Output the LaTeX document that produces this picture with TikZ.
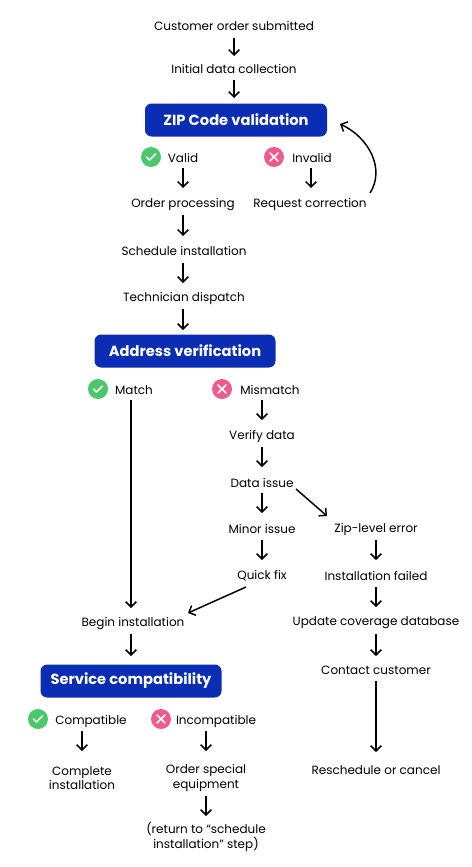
\documentclass[tikz,border=0pt]{standalone}
\usepackage{fontspec}
\setmainfont{Poppins}
\usetikzlibrary{arrows.meta,calc}
\definecolor{hdr}{HTML}{0B2DB3}
\definecolor{okc}{HTML}{4CC86A}
\definecolor{noc}{HTML}{EF5B8C}
\begin{document}
\begin{tikzpicture}[x=0.75pt,y=-0.75pt,
  t/.style={font=\fontsize{9}{11}\selectfont,align=center,inner sep=1pt,yshift=-0.8pt},
  hb/.style={fill=hdr,rounded corners=5pt,text=white,font=\fontsize{11}{13}\selectfont\bfseries,minimum height=24.75pt},
  ar/.style={-{Straight Barb[length=4pt,width=8pt]},line width=1.1pt},
  ok/.style={circle,fill=okc,minimum size=15pt,inner sep=0pt},
  no/.style={circle,fill=noc,minimum size=15pt,inner sep=0pt}]
\useasboundingbox (0,0) rectangle (471,867);
\newcommand{\chk}[1]{\draw[white,line width=1.2pt,line cap=round,line join=round] ($(#1)+(-4.5,0)$) -- ($(#1)+(-1.5,3)$) -- ($(#1)+(4.5,-3)$);}
\newcommand{\crs}[1]{\draw[white,line width=1.2pt,line cap=round] ($(#1)+(-4,-4)$) -- ($(#1)+(4,4)$) ($(#1)+(-4,4)$) -- ($(#1)+(4,-4)$);}
\node[t] (a) at (234,25) {Customer order submitted};
\node[t] (b) at (234,68) {Initial data collection};
\node[hb,minimum width=136.5pt] (zip) at (236,120) {ZIP Code validation};
\node[ok] (i1) at (151,157) {}; \chk{i1}
\node[t] (v) at (183,157) {Valid};
\node[no] (i2) at (274,157) {}; \crs{i2}
\node[t] (iv) at (312,157) {Invalid};
\node[t] (op) at (183,203) {Order processing};
\node[t] (rc) at (310,203) {Request correction};
\node[t] (si) at (184,250) {Schedule installation};
\node[t] (td) at (184,297) {Technician dispatch};
\node[hb,minimum width=135.75pt] (av) at (185,351) {Address verification};
\node[ok] (i3) at (98,389) {}; \chk{i3}
\node[t] (m) at (134,389) {Match};
\node[no] (i4) at (222,389) {}; \crs{i4}
\node[t] (mm) at (270,389) {Mismatch};
\node[t] (vd) at (262,435) {Verify data};
\node[t] (di) at (262,482) {Data issue};
\node[t] (mi) at (262,528) {Minor issue};
\node[t] (ze) at (376,528) {Zip-level error};
\node[t] (qf) at (262,575) {Quick fix};
\node[t] (if) at (376,575) {Installation failed};
\node[t] (bi) at (133,622) {Begin installation};
\node[t] (ud) at (376,622) {Update coverage database};
\node[t] (cc) at (376,669) {Contact customer};
\node[hb,minimum width=135.75pt] (sc) at (131,681) {Service compatibility};
\node[ok] (i5) at (38,719) {}; \chk{i5}
\node[t] (cp) at (91,720) {Compatible};
\node[no] (i6) at (161,719) {}; \crs{i6}
\node[t] (ic) at (216,720) {Incompatible};
\node[t] (ci) at (82,777) {Complete\\installation};
\node[t] (os) at (206,777) {Order special\\equipment};
\node[t] (rt) at (206,836) {(return to “schedule\\installation” step)};
\node[t] (rs) at (376,769) {Reschedule or cancel};
\draw[ar] (234,38) -- (234,56);
\draw[ar] (234,80) -- (234,98);
\draw[ar] (183,168) -- (183,188);
\draw[ar] (311,168) -- (311,188);
\draw[ar] (370,193) .. controls (385,170) and (370,138) .. (340,124);
\draw[ar] (183,215) -- (183,236);
\draw[ar] (183,263) -- (183,283);
\draw[ar] (183,309) -- (183,330);
\draw[ar] (131,400) -- (131,608);
\draw[ar] (262,400) -- (262,420);
\draw[ar] (262,447) -- (262,467);
\draw[ar] (262,493) -- (262,513);
\draw[ar] (296,489) -- (327,516);
\draw[ar] (262,540) -- (262,560);
\draw[ar] (376,540) -- (376,560);
\draw[ar] (246,587) -- (188,613);
\draw[ar] (376,587) -- (376,607);
\draw[ar] (131,634) -- (131,656);
\draw[ar] (376,634) -- (376,656);
\draw[ar] (376,681) -- (376,752);
\draw[ar] (82,731) -- (82,751);
\draw[ar] (206,731) -- (206,751);
\draw[ar] (206,796) -- (206,816);
\end{tikzpicture}
\end{document}
